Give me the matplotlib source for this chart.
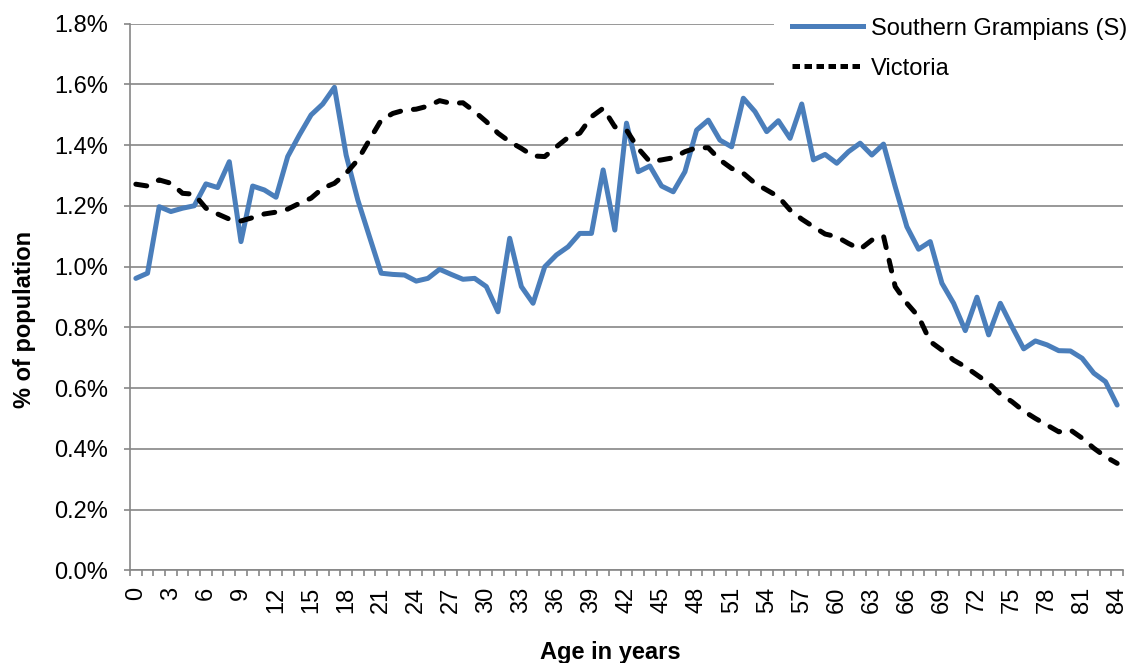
import numpy as np
import matplotlib
matplotlib.use("Agg")
import matplotlib.pyplot as plt
from matplotlib.ticker import FuncFormatter, FixedLocator
from matplotlib.lines import Line2D

plt.rcParams['font.family'] = ['Liberation Sans', 'DejaVu Sans']

ages = list(range(0, 85))

southern_grampians = [
    0.961, 0.978, 1.197, 1.181, 1.192, 1.200, 1.272, 1.260, 1.345, 1.082,
    1.265, 1.252, 1.228, 1.362, 1.433, 1.499, 1.535, 1.590, 1.367, 1.219,
    1.098, 0.978, 0.974, 0.972, 0.952, 0.961, 0.991, 0.974, 0.958, 0.961,
    0.934, 0.851, 1.093, 0.934, 0.879, 0.999, 1.038, 1.065, 1.109, 1.109,
    1.318, 1.120, 1.472, 1.312, 1.331, 1.265, 1.246, 1.312, 1.449, 1.482,
    1.416, 1.394, 1.554, 1.510, 1.444, 1.480, 1.422, 1.535, 1.351, 1.369,
    1.340, 1.378, 1.406, 1.367, 1.403, 1.263, 1.131, 1.057, 1.082, 0.945,
    0.879, 0.789, 0.899, 0.775, 0.879, 0.802, 0.729, 0.755, 0.742, 0.723,
    0.722, 0.698, 0.649, 0.621, 0.544,
]

victoria = [
    1.271, 1.265, 1.285, 1.274, 1.241, 1.238, 1.192, 1.173, 1.156, 1.150,
    1.161, 1.173, 1.179, 1.189, 1.208, 1.225, 1.258, 1.274, 1.307, 1.351,
    1.417, 1.482, 1.504, 1.515, 1.518, 1.528, 1.546, 1.537, 1.539, 1.510,
    1.477, 1.439, 1.411, 1.389, 1.364, 1.362, 1.394, 1.425, 1.439, 1.493,
    1.521, 1.460, 1.449, 1.389, 1.345, 1.351, 1.358, 1.378, 1.391, 1.391,
    1.351, 1.323, 1.307, 1.274, 1.252, 1.230, 1.186, 1.156, 1.131, 1.107,
    1.098, 1.076, 1.057, 1.087, 1.100, 0.934, 0.879, 0.835, 0.753, 0.725,
    0.692, 0.670, 0.643, 0.616, 0.580, 0.555, 0.524, 0.500, 0.478, 0.456,
    0.462, 0.435, 0.402, 0.374, 0.352,
]

y_ticks = [0.0, 0.2, 0.4, 0.6, 0.8, 1.0, 1.2, 1.4, 1.6, 1.8]
x_tick_ages = list(range(0, 85, 3))

series_names = ["Southern Grampians (S)", "Victoria"]
x_title = "Age in years"
y_title = "% of population"

W, H = 1133, 663
fig = plt.figure(figsize=(W / 100, H / 100), dpi=100)
L, R, T, B = 130, 1123, 23.5, 570.3
ax = fig.add_axes([L / W, 1 - B / H, (R - L) / W, (B - T) / H])

grid_col = '#868686'
blue = '#4A7EBB'
fs = 17
lw = 3.6

ax.plot(ages, southern_grampians, color=blue, lw=lw, solid_joinstyle='round',
        solid_capstyle='round', zorder=3)
ax.plot(ages, victoria, color='black', lw=lw, ls=(0, (2.2, 2.6)),
        dash_capstyle='round', dash_joinstyle='round', zorder=3)

ax.set_xlim(-0.5, 84.5)
ax.set_ylim(0, 1.8)
ax.yaxis.set_major_locator(FixedLocator(y_ticks))
ax.yaxis.set_major_formatter(FuncFormatter(lambda v, p: f"{v:.1f}%"))
ax.grid(axis='y', color=grid_col, lw=1.2, zorder=1)
ax.set_axisbelow(True)

ax.xaxis.set_major_locator(FixedLocator(x_tick_ages))
ax.xaxis.set_minor_locator(FixedLocator(np.arange(-0.5, 85, 1)))
ax.tick_params(axis='x', which='major', length=0, pad=12, labelsize=fs,
               labelrotation=90)
ax.tick_params(axis='x', which='minor', length=4.5, width=1.2, color=grid_col,
               direction='out')
ax.tick_params(axis='y', which='major', length=4.5, width=1.2, color=grid_col,
               direction='out', pad=11, labelsize=fs)

for s in ['top', 'right']:
    ax.spines[s].set_visible(False)
for s in ['left', 'bottom']:
    ax.spines[s].set_color(grid_col)
    ax.spines[s].set_linewidth(1.2)

fig.text(610 / W, 1 - 652 / H, x_title, ha='center', va='center',
         fontweight='bold', fontsize=fs)
fig.text(25 / W, 1 - 319 / H, y_title, ha='center', va='center',
         rotation=90, fontweight='bold', fontsize=fs)

handles = [Line2D([], [], color=blue, lw=lw),
           Line2D([], [], color='black', lw=lw, ls=(0, (1.5, 0.9)))]
leg = ax.legend(handles, series_names, loc='upper left',
                bbox_to_anchor=(774 / W, 1.0), bbox_transform=fig.transFigure,
                fontsize=fs, frameon=True, fancybox=False, framealpha=1,
                facecolor='white', edgecolor='none', handlelength=3.0,
                handletextpad=0.35, labelspacing=0.76, borderpad=0.75,
                borderaxespad=0)
leg.set_zorder(5)

fig.savefig('out.png', dpi=100)
